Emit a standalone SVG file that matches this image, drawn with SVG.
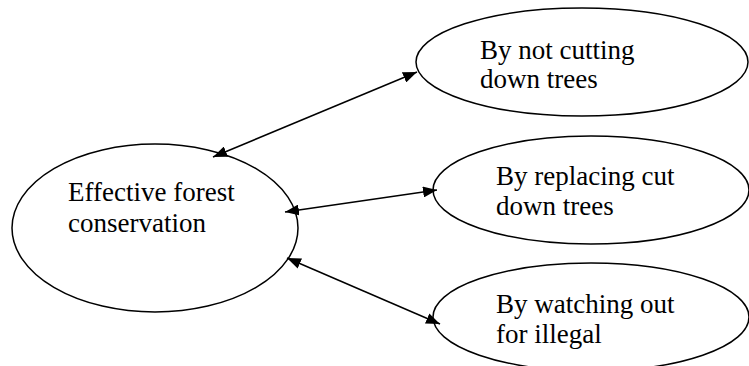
<svg xmlns="http://www.w3.org/2000/svg" width="749" height="366" viewBox="0 0 749 366">
<style>
.n{fill:#fff;stroke:#000;stroke-width:1.5}
.t{font-family:"Liberation Serif","Times New Roman",serif;font-size:27px;fill:#000}
.c{stroke:#000;stroke-width:1.5;fill:none;marker-start:url(#a);marker-end:url(#a)}
</style>
<defs>
<marker id="a" viewBox="0 0 14 11" refX="14" refY="5.5" markerWidth="14" markerHeight="11" markerUnits="userSpaceOnUse" orient="auto-start-reverse">
<path d="M0,0 L14,5.5 L0,11 z" fill="#000"/>
</marker>
</defs>
<rect width="749" height="366" fill="#fff"/>
<g id="center">
<ellipse class="n" cx="155" cy="228" rx="143" ry="84"/>
<text class="t" x="68" y="201">Effective forest</text>
<text class="t" x="68" y="232">conservation</text>
</g>
<g id="n1">
<ellipse class="n" cx="582" cy="62" rx="166" ry="54"/>
<text class="t" x="480" y="59">By not cutting</text>
<text class="t" x="480" y="88">down trees</text>
</g>
<g id="n2">
<ellipse class="n" cx="591" cy="190" rx="158" ry="54"/>
<text class="t" x="496" y="185">By replacing cut</text>
<text class="t" x="496" y="215">down trees</text>
</g>
<g id="n3">
<ellipse class="n" cx="591" cy="317" rx="158" ry="54"/>
<text class="t" x="496" y="313">By watching out</text>
<text class="t" x="496" y="343">for illegal</text>
</g>
<g id="connectors">
<line class="c" x1="213" y1="157" x2="417" y2="72"/>
<line class="c" x1="285" y1="212" x2="437" y2="190"/>
<line class="c" x1="287" y1="258" x2="440" y2="324"/>
</g>
</svg>
